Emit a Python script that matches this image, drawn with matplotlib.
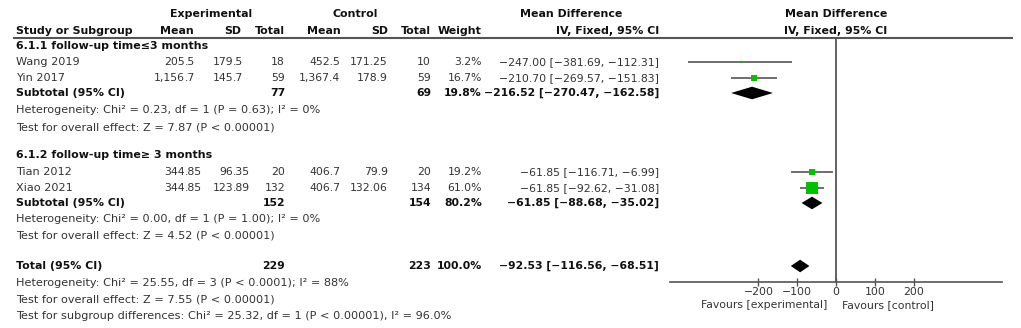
import numpy as np
import matplotlib.pyplot as plt

# ---- data ----
studies = ["Wang 2019", "Yin 2017", "Tian 2012", "Xiao 2021"]
exp_mean = [205.5, 1156.7, 344.85, 344.85]
exp_sd = [179.5, 145.7, 96.35, 123.89]
exp_n = [18, 59, 20, 132]
ctl_mean = [452.5, 1367.4, 406.7, 406.7]
ctl_sd = [171.25, 178.9, 79.9, 132.06]
ctl_n = [10, 59, 20, 134]
weight = [3.2, 16.7, 19.2, 61.0]
md = [-247.00, -210.70, -61.85, -61.85]
md_lo = [-381.69, -269.57, -116.71, -92.62]
md_hi = [-112.31, -151.83, -6.99, -31.08]

sub_labels = ["6.1.1 follow-up time\u22643 months", "6.1.2 follow-up time\u2265 3 months"]
sub_exp_n = [77, 152]
sub_ctl_n = [69, 154]
sub_weight = [19.8, 80.2]
sub_md = [-216.52, -61.85]
sub_lo = [-270.47, -88.68]
sub_hi = [-162.58, -35.02]
sub_het = ["Heterogeneity: Chi\u00b2 = 0.23, df = 1 (P = 0.63); I\u00b2 = 0%",
           "Heterogeneity: Chi\u00b2 = 0.00, df = 1 (P = 1.00); I\u00b2 = 0%"]
sub_z = ["Test for overall effect: Z = 7.87 (P < 0.00001)",
         "Test for overall effect: Z = 4.52 (P < 0.00001)"]

tot_exp_n, tot_ctl_n, tot_weight = 229, 223, 100.0
tot_md, tot_lo, tot_hi = -92.53, -116.56, -68.51
tot_notes = ["Heterogeneity: Chi\u00b2 = 25.55, df = 3 (P < 0.0001); I\u00b2 = 88%",
             "Test for overall effect: Z = 7.55 (P < 0.00001)",
             "Test for subgroup differences: Chi\u00b2 = 25.32, df = 1 (P < 0.00001), I\u00b2 = 96.0%"]

xticks = [-200, -100, 0, 100, 200]

FS = 8.1      # running text
FSN = 7.8     # numbers
FSH = 7.9     # bold headings
TXT = "#333333"
BLD = "#111111"
LINE = "#555555"
GREEN = "#00c000"


def fmt_ci(m, lo, hi):
    s = "%.2f [%.2f, %.2f]" % (m, lo, hi)
    return s.replace("-", "\u2212")


def num(v):
    return "{:,}".format(v)


fig = plt.figure(figsize=(10.21, 3.28), dpi=100)
tx = fig.add_axes([0, 0, 1, 1])
tx.set_xlim(0, 1021)
tx.set_ylim(328, 0)
tx.axis("off")


def t(x, y, s, ha="right", bold=False, size=None, **kw):
    if size is None:
        size = FSH if bold else FS
    tx.text(x, y, s, ha=ha, va="center", fontsize=size,
            fontweight="bold" if bold else "normal",
            color=BLD if bold else TXT, **kw)


def dec(x, y, v):
    # decimal aligned number, point sits at x
    a, b = num(v).split(".")
    t(x, y, a, size=FSN)
    t(x, y, "." + b, ha="left", size=FSN)


# header
t(211, 14, "Experimental", ha="center", bold=True)
t(355, 14, "Control", ha="center", bold=True)
t(571, 14, "Mean Difference", ha="center", bold=True)
t(836, 14, "Mean Difference", ha="center", bold=True)
t(16, 30.5, "Study or Subgroup", ha="left", bold=True)
hdr_x = [194, 241, 285, 341, 388, 431, 482, 659]
for x, s in zip(hdr_x, ["Mean", "SD", "Total", "Mean", "SD", "Total", "Weight", "IV, Fixed, 95% CI"]):
    t(x, 30.5, s, bold=True)
t(836, 30.5, "IV, Fixed, 95% CI", ha="center", bold=True)
tx.hlines(37.5, 13, 1013, color=LINE, lw=1.5)

# row layout (pixels)
sub_y = [46, 155]
study_y = [[62, 78], [172, 188]]
subtot_y = [93, 203]
het_y = [110, 219]
z_y = [127, 236]
tot_y = 266
tot_notes_y = [283, 299.5, 316]

fx = fig.add_axes([670 / 1021, (328 - 282) / 328, 332 / 1021, (282 - 37.5) / 328])
fx.set_xlim(-428, 428)
fx.set_ylim(282, 37.5)
for sp in ["top", "left", "right"]:
    fx.spines[sp].set_visible(False)
fx.spines["bottom"].set_color(LINE)
fx.spines["bottom"].set_linewidth(1.2)
fx.set_yticks([])
fx.set_xticks(xticks)
fx.set_xticklabels([str(v).replace("-", "\u2212") for v in xticks])
fx.tick_params(axis="x", direction="inout", length=6, width=1, color=LINE,
               labelsize=7.8, labelcolor=TXT, pad=0.5)
fx.axvline(0, color=LINE, lw=1.3)
fx.patch.set_alpha(0)


def diamond(ax, y, m, lo, hi, h=6.3):
    ax.fill([lo, m, hi, m], [y, y - h, y, y + h], color="black", lw=0)


idx = 0
for g in range(2):
    t(16, sub_y[g], sub_labels[g], ha="left", bold=True)
    for k in range(2):
        i = idx + k
        y = study_y[g][k]
        t(16, y, studies[i], ha="left")
        dec(185, y, exp_mean[i])
        dec(233, y, exp_sd[i])
        t(285, y, str(exp_n[i]), size=FSN)
        t(340, y, num(ctl_mean[i]), size=FSN)
        t(388, y, num(ctl_sd[i]), size=FSN)
        t(431, y, str(ctl_n[i]), size=FSN)
        t(482, y, "%.1f%%" % weight[i], size=FSN)
        t(659, y, fmt_ci(md[i], md_lo[i], md_hi[i]), size=FSN)
        fx.hlines(y, md_lo[i], md_hi[i], color=LINE, lw=1.2)
        side = 1.54 * np.sqrt(weight[i])
        fx.plot(md[i], y, marker="s", color=GREEN, ms=side / 1.389, mew=0, ls="none")
    idx += 2
    ys = subtot_y[g]
    t(16, ys, "Subtotal (95% CI)", ha="left", bold=True)
    t(285, ys, str(sub_exp_n[g]), bold=True, size=FSN)
    t(431, ys, str(sub_ctl_n[g]), bold=True, size=FSN)
    t(482, ys, "%.1f%%" % sub_weight[g], bold=True, size=FSN)
    t(659, ys, fmt_ci(sub_md[g], sub_lo[g], sub_hi[g]), bold=True, size=FSN)
    diamond(fx, ys, sub_md[g], sub_lo[g], sub_hi[g])
    t(16, het_y[g], sub_het[g], ha="left")
    t(16, z_y[g], sub_z[g], ha="left")

t(16, tot_y, "Total (95% CI)", ha="left", bold=True)
t(285, tot_y, str(tot_exp_n), bold=True, size=FSN)
t(431, tot_y, str(tot_ctl_n), bold=True, size=FSN)
t(482, tot_y, "%.1f%%" % tot_weight, bold=True, size=FSN)
t(659, tot_y, fmt_ci(tot_md, tot_lo, tot_hi), bold=True, size=FSN)
diamond(fx, tot_y, tot_md, tot_lo, tot_hi)
for y, s in zip(tot_notes_y, tot_notes):
    t(16, y, s, ha="left")

t(827, 305.5, "Favours [experimental]", size=7.8)
t(842, 305.5, "Favours [control]", ha="left", size=7.8)

fig.savefig("out.png", dpi=100)
